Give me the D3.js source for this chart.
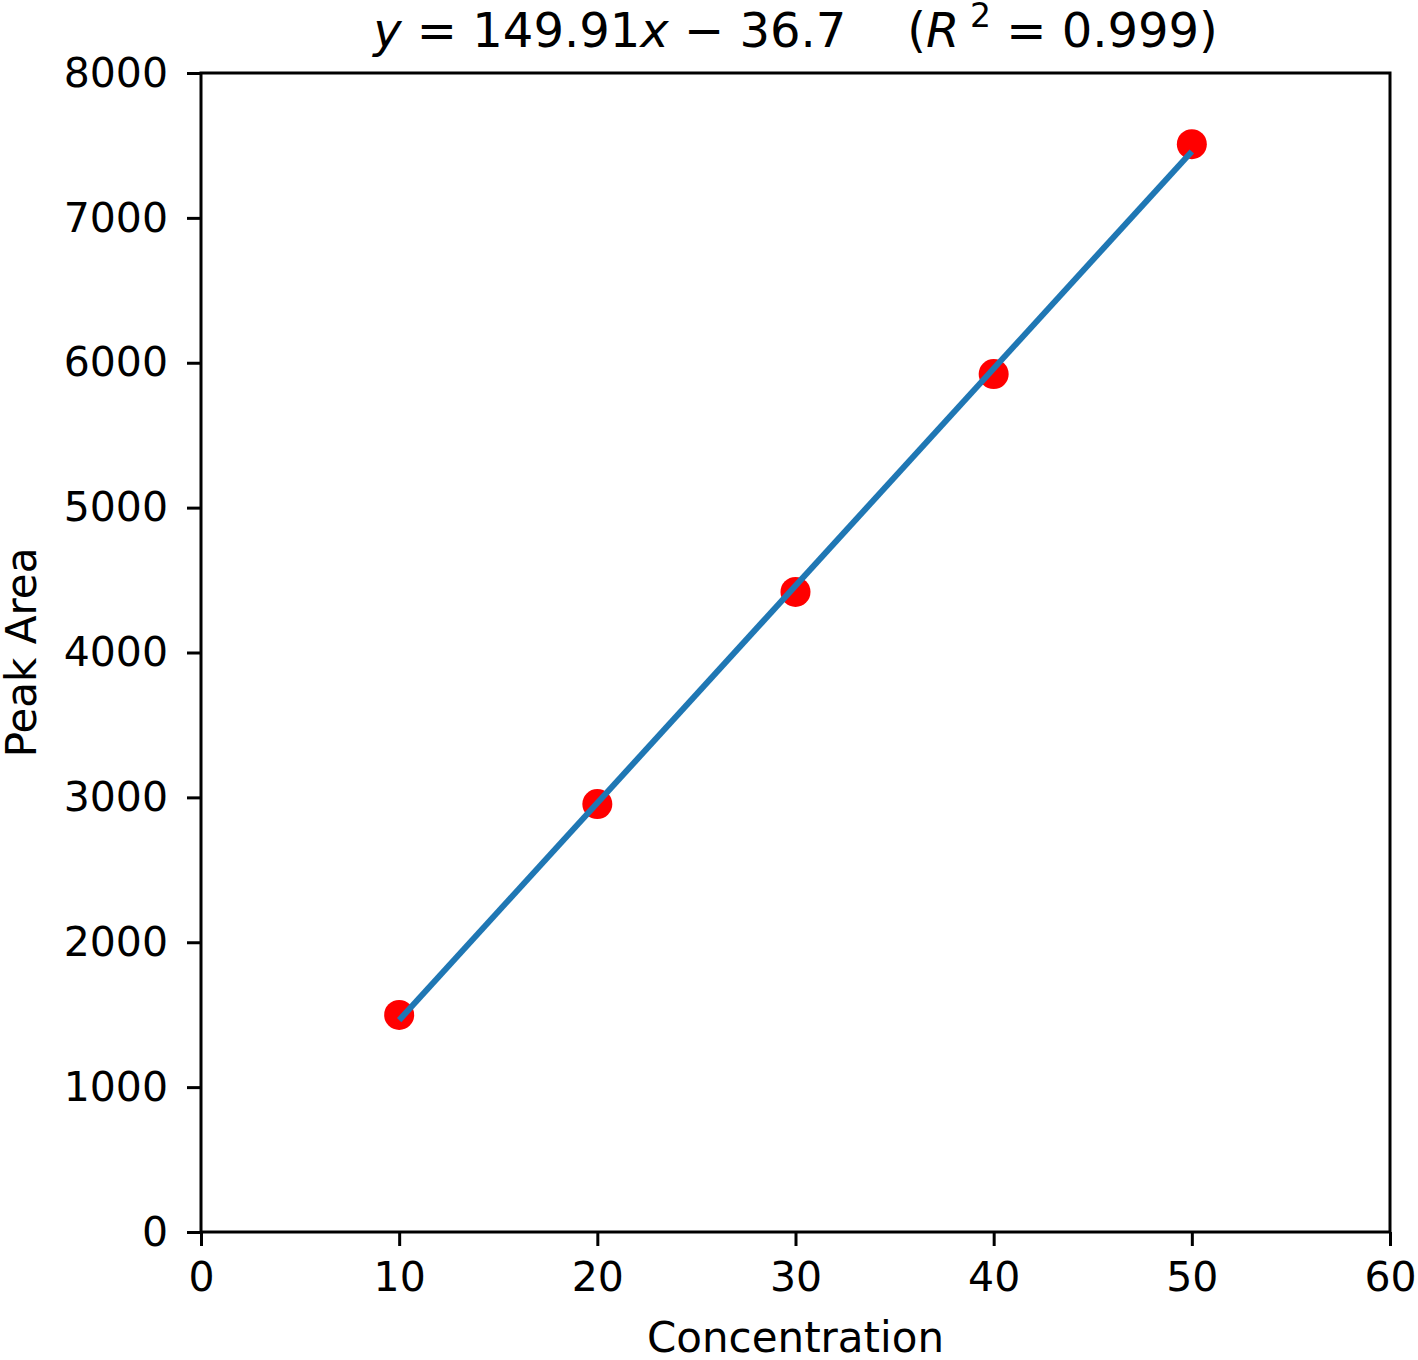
<!DOCTYPE html>
<html>
<head>
<meta charset="utf-8">
<script src="https://cdn.jsdelivr.net/npm/d3@7"></script>
<style>
  body { margin: 0; background: #fff; }
  text { font-family: "DejaVu Sans", sans-serif; fill: #000; }
</style>
</head>
<body>
<div id="chart"></div>
<script>
// data
var conc = [10, 20, 30, 40, 50];
var area = [1498, 2954, 4418, 5922, 7509];
var slope = 149.91;
var intercept = -36.7;
var xTicks = [0, 10, 20, 30, 40, 50, 60];
var yTicks = [0, 1000, 2000, 3000, 4000, 5000, 6000, 7000, 8000];

var W = 1418, H = 1360;
var m = { left: 201, right: 28, top: 73, bottom: 128 };

var svg = d3.select("#chart").append("svg")
    .attr("width", W)
    .attr("height", H);

var x = d3.scaleLinear().domain([0, 60]).range([m.left, W - m.right]);
var y = d3.scaleLinear().domain([0, 8000]).range([H - m.bottom, m.top]);

// axes
var gx = svg.append("g")
    .attr("transform", "translate(0," + (H - m.bottom) + ")")
    .call(d3.axisBottom(x).tickValues(xTicks).tickSize(14).tickPadding(16).tickFormat(d3.format("d")));
var gy = svg.append("g")
    .attr("transform", "translate(" + m.left + ",0)")
    .call(d3.axisLeft(y).tickValues(yTicks).tickSize(14).tickPadding(19).tickFormat(d3.format("d")));

[gx, gy].forEach(function (g) {
    g.selectAll("path.domain").remove();
    g.selectAll(".tick line").attr("stroke", "#000").attr("stroke-width", 3);
    g.selectAll(".tick text").attr("font-size", 41).attr("font-family", "DejaVu Sans").attr("fill", "#000");
});

// frame
svg.append("rect")
    .attr("x", x(0)).attr("y", y(8000))
    .attr("width", x(60) - x(0)).attr("height", y(0) - y(8000))
    .attr("fill", "none").attr("stroke", "#000").attr("stroke-width", 3);

// points
svg.selectAll("circle.pt")
    .data(conc)
    .enter()
    .append("circle")
    .attr("class", "pt")
    .attr("cx", function (d) { return x(d); })
    .attr("cy", function (d, i) { return y(area[i]); })
    .attr("r", 15)
    .attr("fill", "#ff0000");

// fit line
var fit = [d3.min(conc), d3.max(conc)].map(function (c) { return [c, slope * c + intercept]; });
svg.append("path")
    .datum(fit)
    .attr("fill", "none")
    .attr("stroke", "#1f77b4")
    .attr("stroke-width", 6)
    .attr("d", d3.line().x(function (d) { return x(d[0]); }).y(function (d) { return y(d[1]); }));

// labels
svg.append("text")
    .attr("x", (x(0) + x(60)) / 2)
    .attr("y", 1352)
    .attr("text-anchor", "middle")
    .attr("font-size", 42)
    .text("Concentration");

svg.append("text")
    .attr("transform", "translate(36," + ((y(0) + y(8000)) / 2) + ") rotate(-90)")
    .attr("text-anchor", "middle")
    .attr("font-size", 42)
    .text("Peak Area");

// title
var t = svg.append("text")
    .attr("x", (x(0) + x(60)) / 2)
    .attr("y", 47)
    .attr("text-anchor", "middle")
    .attr("font-size", 48)
    .attr("xml:space", "preserve");
t.append("tspan").attr("font-style", "italic").text("y");
t.append("tspan").text(" = 149.91");
t.append("tspan").attr("font-style", "italic").text("x");
t.append("tspan").text(" \u2212 36.7    (");
t.append("tspan").attr("font-style", "italic").text("R");
t.append("tspan").attr("font-size", 33).attr("dy", -20).text(" 2");
t.append("tspan").attr("dy", 20).text(" = 0.999)");
</script>
</body>
</html>
